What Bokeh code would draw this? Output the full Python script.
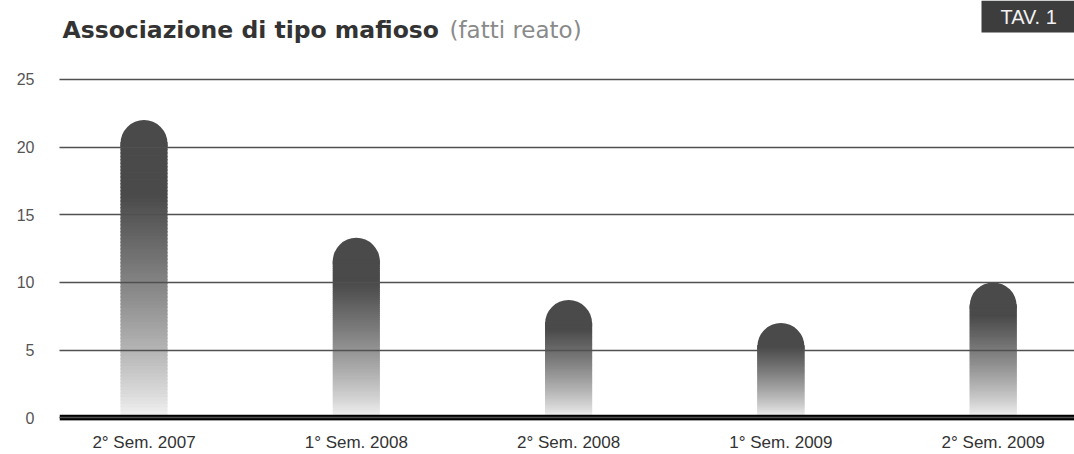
from bokeh.plotting import figure
from bokeh.models import Range1d, FixedTicker, Span, Label, ColumnDataSource
from bokeh.embed import file_html
from bokeh.resources import INLINE

# ---- data ----
categories = ["2° Sem. 2007", "1° Sem. 2008", "2° Sem. 2008", "1° Sem. 2009", "2° Sem. 2009"]
values = [22, 13.3, 8.7, 7, 10]
y_ticks = [0, 5, 10, 15, 20, 25]
title_bold = "Associazione di tipo mafioso"
title_normal = "(fatti reato)"
tav_label = "TAV. 1"

# ---- layout constants (pixels) ----
W, H = 1074, 454
LEFT = 59
BOTTOM = 32
PX_Y = 13.6           # pixels per unit on y
PX_X = 212.3          # pixels per category step
ZERO_OFF = 2.7        # pixels from frame bottom up to the zero line
FIRST_OFF = 84.5      # pixels from frame left to first category
FRAME_H = H - BOTTOM
FRAME_W = W - LEFT
y_start = -ZERO_OFF / PX_Y
y_end = y_start + FRAME_H / PX_Y
x_start = -FIRST_OFF / PX_X
x_end = x_start + FRAME_W / PX_X
BAR_PX = 47
BAR_W = BAR_PX / PX_X
CAP = (BAR_PX / 2) / PX_Y   # height of the rounded cap in data units
OVERLAP = 1.5 / PX_Y        # slice overlap (avoids seams)

p = figure(width=W, height=H, output_backend="svg", toolbar_location=None,
           x_range=Range1d(x_start, x_end), y_range=Range1d(y_start, y_end),
           min_border_left=LEFT, min_border_right=0, min_border_top=0,
           min_border_bottom=BOTTOM)
p.outline_line_color = None
p.background_fill_color = "white"
p.border_fill_color = "white"

xs = list(range(len(categories)))

# dark rounded cap of every bar
cap_bottoms = [v - CAP - 2 * OVERLAP for v in values]
p.vbar(x=xs, top=values, bottom=cap_bottoms, width=BAR_W, fill_color="#4a4a4a",
       line_color=None, border_radius=(24, 24, 0, 0))

# gradient slices from zero up to the start of the rounded cap
N = 80
DARK, LIGHT = 74, 248
sx, sb, st, sc = [], [], [], []
for xi, v in zip(xs, values):
    h = v - CAP
    for k in range(N):
        f0 = k / N
        f1 = (k + 1) / N
        fm = (f0 + f1) / 2 * h / v          # fraction of bar height
        lvl = min(fm / 0.75, 1.0) ** 0.8
        g = int(round(LIGHT - (LIGHT - DARK) * lvl))
        sx.append(xi)
        sb.append(h * f0)
        st.append(min(h * f1 + OVERLAP, h + OVERLAP))
        sc.append("#%02x%02x%02x" % (g, g, g))
src = ColumnDataSource(dict(x=sx, bottom=sb, top=st, color=sc))
p.vbar(x="x", bottom="bottom", top="top", width=BAR_W, fill_color="color",
       line_color=None, source=src)

# grid lines over bars
p.xgrid.visible = False
p.ygrid.grid_line_color = "#505050"
p.ygrid.grid_line_width = 1.4
p.ygrid.level = "overlay"

# thick zero line
p.add_layout(Span(location=0, dimension="width", line_color="black", line_width=6))

# axes
p.yaxis.ticker = FixedTicker(ticks=y_ticks)
p.yaxis.axis_line_color = None
p.yaxis.major_tick_line_color = None
p.yaxis.minor_tick_line_color = None
p.yaxis.major_tick_out = 0
p.yaxis.minor_tick_out = 0
p.yaxis.major_label_standoff = 25
p.yaxis.major_label_text_font = "Liberation Sans"
p.yaxis.major_label_text_font_size = "16px"
p.yaxis.major_label_text_color = "#555555"

p.xaxis.ticker = FixedTicker(ticks=xs)
p.xaxis.major_label_overrides = {i: c for i, c in zip(xs, categories)}
p.xaxis.axis_line_color = None
p.xaxis.major_tick_line_color = None
p.xaxis.minor_tick_line_color = None
p.xaxis.major_tick_out = 0
p.xaxis.minor_tick_out = 0
p.xaxis.major_label_standoff = 12
p.xaxis.major_label_text_font = "Liberation Sans"
p.xaxis.major_label_text_font_size = "17px"
p.xaxis.major_label_text_color = "#333333"

# titles (inside the frame, screen units from frame's bottom-left)
p.add_layout(Label(x=3, y=FRAME_H - 31, x_units="screen", y_units="screen", text=title_bold,
                   text_font="DejaVu Sans", text_font_style="bold", text_font_size="23.5px",
                   text_color="#333333", text_baseline="alphabetic"))
p.add_layout(Label(x=390, y=FRAME_H - 31, x_units="screen", y_units="screen", text=title_normal,
                   text_font="DejaVu Sans", text_font_size="23px",
                   text_color="#8a8a8a", text_baseline="alphabetic"))
p.add_layout(Label(x=922, y=FRAME_H - 18, x_units="screen", y_units="screen", text=tav_label,
                   text_font="Liberation Sans", text_font_size="20px",
                   text_color="#f2f2f2", text_baseline="middle",
                   background_fill_color="#3d3d3d",
                   padding=dict(left=19, right=30, top=5, bottom=5)))

open("out.html", "w").write(file_html(p, INLINE))
